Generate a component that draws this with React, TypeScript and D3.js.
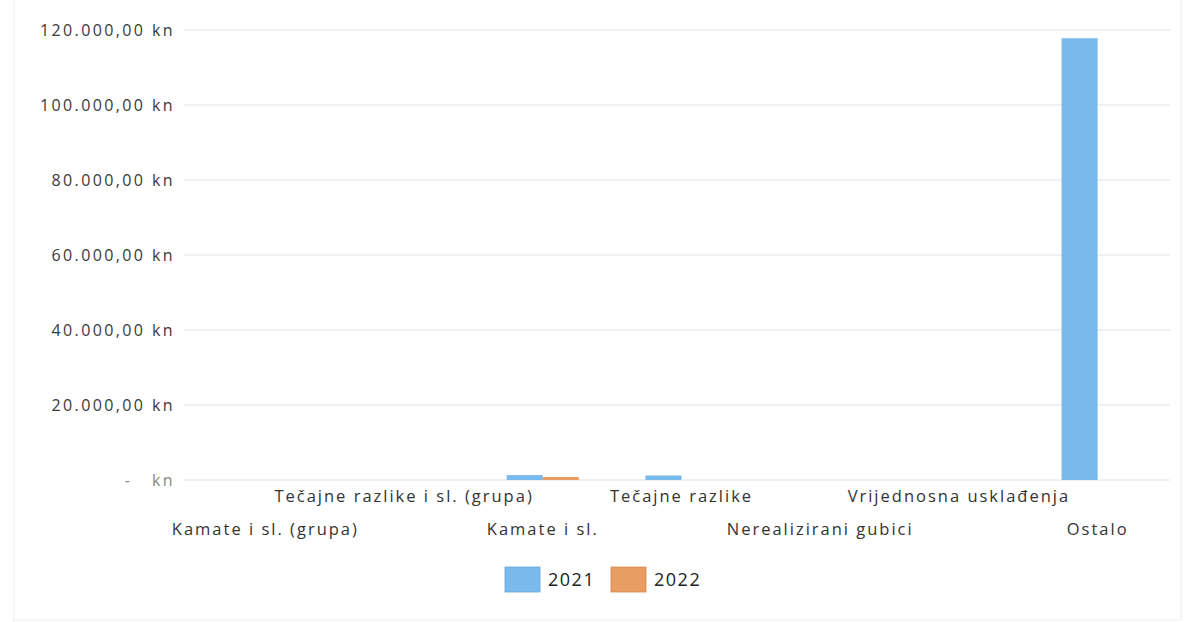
import React from "react";
import * as d3 from "d3";

const categories = [
  "Kamate i sl. (grupa)",
  "Tečajne razlike i sl. (grupa)",
  "Kamate i sl.",
  "Tečajne razlike",
  "Nerealizirani gubici",
  "Vrijednosna usklađenja",
  "Ostalo",
];
const series = ["2021", "2022"];
const values2021 = [0, 0, 1300, 1200, 0, 0, 117800];
const values2022 = [0, 0, 800, 0, 0, 0, 0];
const yTicks = [0, 20000, 40000, 60000, 80000, 100000, 120000];
const colors = ["#79b9ec", "#e99d62"];

const W = 1184;
const H = 622;

const locale = d3.formatLocale({
  decimal: ",",
  thousands: ".",
  grouping: [3],
  currency: ["", " kn"],
});
const fmt = locale.format(",.2f");
const fmtTick = (v: number) => (v === 0 ? "-\u00a0\u00a0\u00a0kn" : `${fmt(v)} kn`);

export default function App() {
  const x0 = d3.scaleBand<string>().domain(categories).range([196, 1167]).paddingInner(0.48).paddingOuter(0.24);
  const x = d3.scaleBand<string>().domain(categories).range([196, 1167]);
  const x1 = d3.scaleBand<string>().domain(series).range([0, x0.bandwidth()]);
  const y = d3.scaleLinear().domain([0, 120000]).range([480, 30]);
  const data = [values2021, values2022];
  const font = "'Open Sans', 'DejaVu Sans', sans-serif";

  return (
    <svg width={W} height={H} style={{ position: "absolute", left: 0, top: 0, background: "#fff" }} fontFamily={font}>
      <rect x={14} y={-2} width={1167} height={622} fill="none" stroke="#f4f4f4" strokeWidth={1.5} />
      {yTicks.map((t) => (
        <g key={t}>
          <line x1={184} x2={1170} y1={y(t)} y2={y(t)} stroke="#ececec" strokeWidth={1.5} />
          <text x={175} y={y(t)} dy="0.35em" textAnchor="end" fontSize={16} fill={t === 0 ? "#888" : "#3a3a3a"} letterSpacing={2.4}>
            {fmtTick(t)}
          </text>
        </g>
      ))}
      {categories.map((c, i) =>
        series.map((s, j) => {
          const v = data[j][i];
          if (!v) return null;
          return (
            <rect
              key={c + s}
              x={(x0(c) as number) + (x1(s) as number)}
              y={y(v)}
              width={x1.bandwidth()}
              height={y(0) - y(v)}
              fill={colors[j]}
            />
          );
        })
      )}
      {categories.map((c, i) => (
        <text
          key={c}
          x={(x(c) as number) + x.bandwidth() / 2}
          y={i % 2 === 0 ? 535 : 502}
          textAnchor="middle"
          fontSize={16.5}
          fill="#333"
          letterSpacing={2}
        >
          {c}
        </text>
      ))}
      {series.map((s, j) => (
        <g key={s} transform={`translate(${505 + j * 106},567)`}>
          <rect width={35} height={25} fill={colors[j]} stroke={j === 0 ? "#6aa6d6" : "#d08a52"} strokeWidth={0.8} />
          <text x={43} y={12.5} dy="0.35em" fontSize={18} fill="#222" letterSpacing={1.5}>
            {s}
          </text>
        </g>
      ))}
    </svg>
  );
}
